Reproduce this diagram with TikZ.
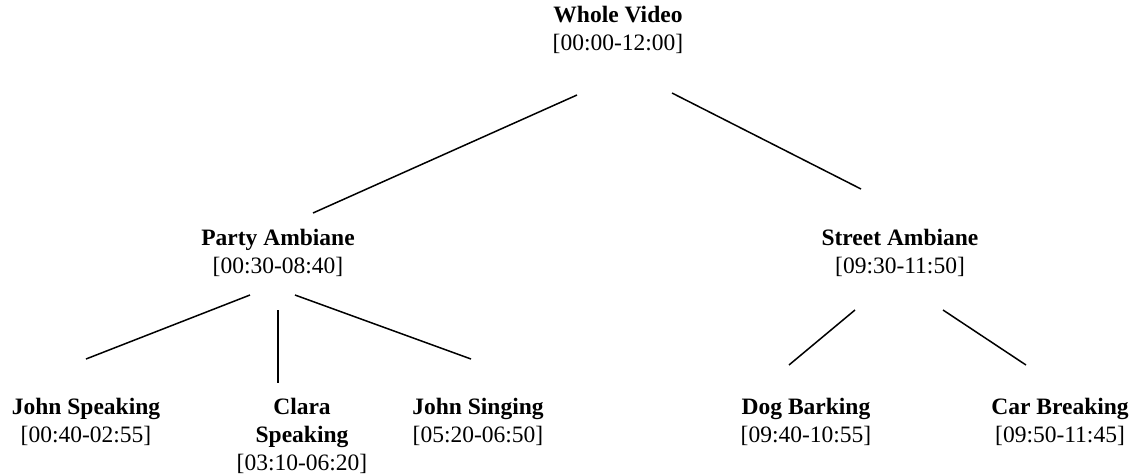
\documentclass[tikz,border=0pt]{standalone}
\usepackage{fontspec}
\setmainfont{Liberation Serif}
\begin{document}
\begin{tikzpicture}[x=1pt,y=-1pt,
  seg/.style={draw=black,line width=1.5pt},
  lbl/.style={anchor=north,inner sep=0pt,align=center,
    font=\fontsize{23.5}{28}\selectfont}]
\useasboundingbox[fill=white] (0,0) rectangle (1146,475);

% labels
\node[lbl] (whole)  at (618,6)   {\textbf{Whole Video}\\{}[00:00-12:00]};
\node[lbl] (party)  at (278,229) {\textbf{Party Ambiane}\\{}[00:30-08:40]};
\node[lbl] (street) at (900,229) {\textbf{Street Ambiane}\\{}[09:30-11:50]};
\node[lbl] (jspeak) at (86,398)  {\textbf{John Speaking}\\{}[00:40-02:55]};
\node[lbl] (clara)  at (302,398) {\textbf{Clara}\\\textbf{Speaking}\\{}[03:10-06:20]};
\node[lbl] (jsing)  at (478,398) {\textbf{John Singing}\\{}[05:20-06:50]};
\node[lbl] (dog)    at (806,398) {\textbf{Dog Barking}\\{}[09:40-10:55]};
\node[lbl] (car)    at (1060,398){\textbf{Car Breaking}\\{}[09:50-11:45]};

% end points of the tree edges
\coordinate (w1) at (577,95);  \coordinate (p0) at (313,213);
\coordinate (w2) at (672,93);  \coordinate (s0) at (861,189);
\coordinate (p1) at (250,295); \coordinate (js) at (86,359);
\coordinate (p2) at (278,310); \coordinate (cl) at (278,383);
\coordinate (p3) at (295,295); \coordinate (jg) at (471,359);
\coordinate (s1) at (855,310); \coordinate (dg) at (789,365);
\coordinate (s2) at (943,310); \coordinate (cr) at (1026,365);

% edges
\draw[seg] (w1) -- (p0);
\draw[seg] (w2) -- (s0);
\draw[seg] (p1) -- (js);
\draw[seg] (p2) -- (cl);
\draw[seg] (p3) -- (jg);
\draw[seg] (s1) -- (dg);
\draw[seg] (s2) -- (cr);
\end{tikzpicture}
\end{document}
